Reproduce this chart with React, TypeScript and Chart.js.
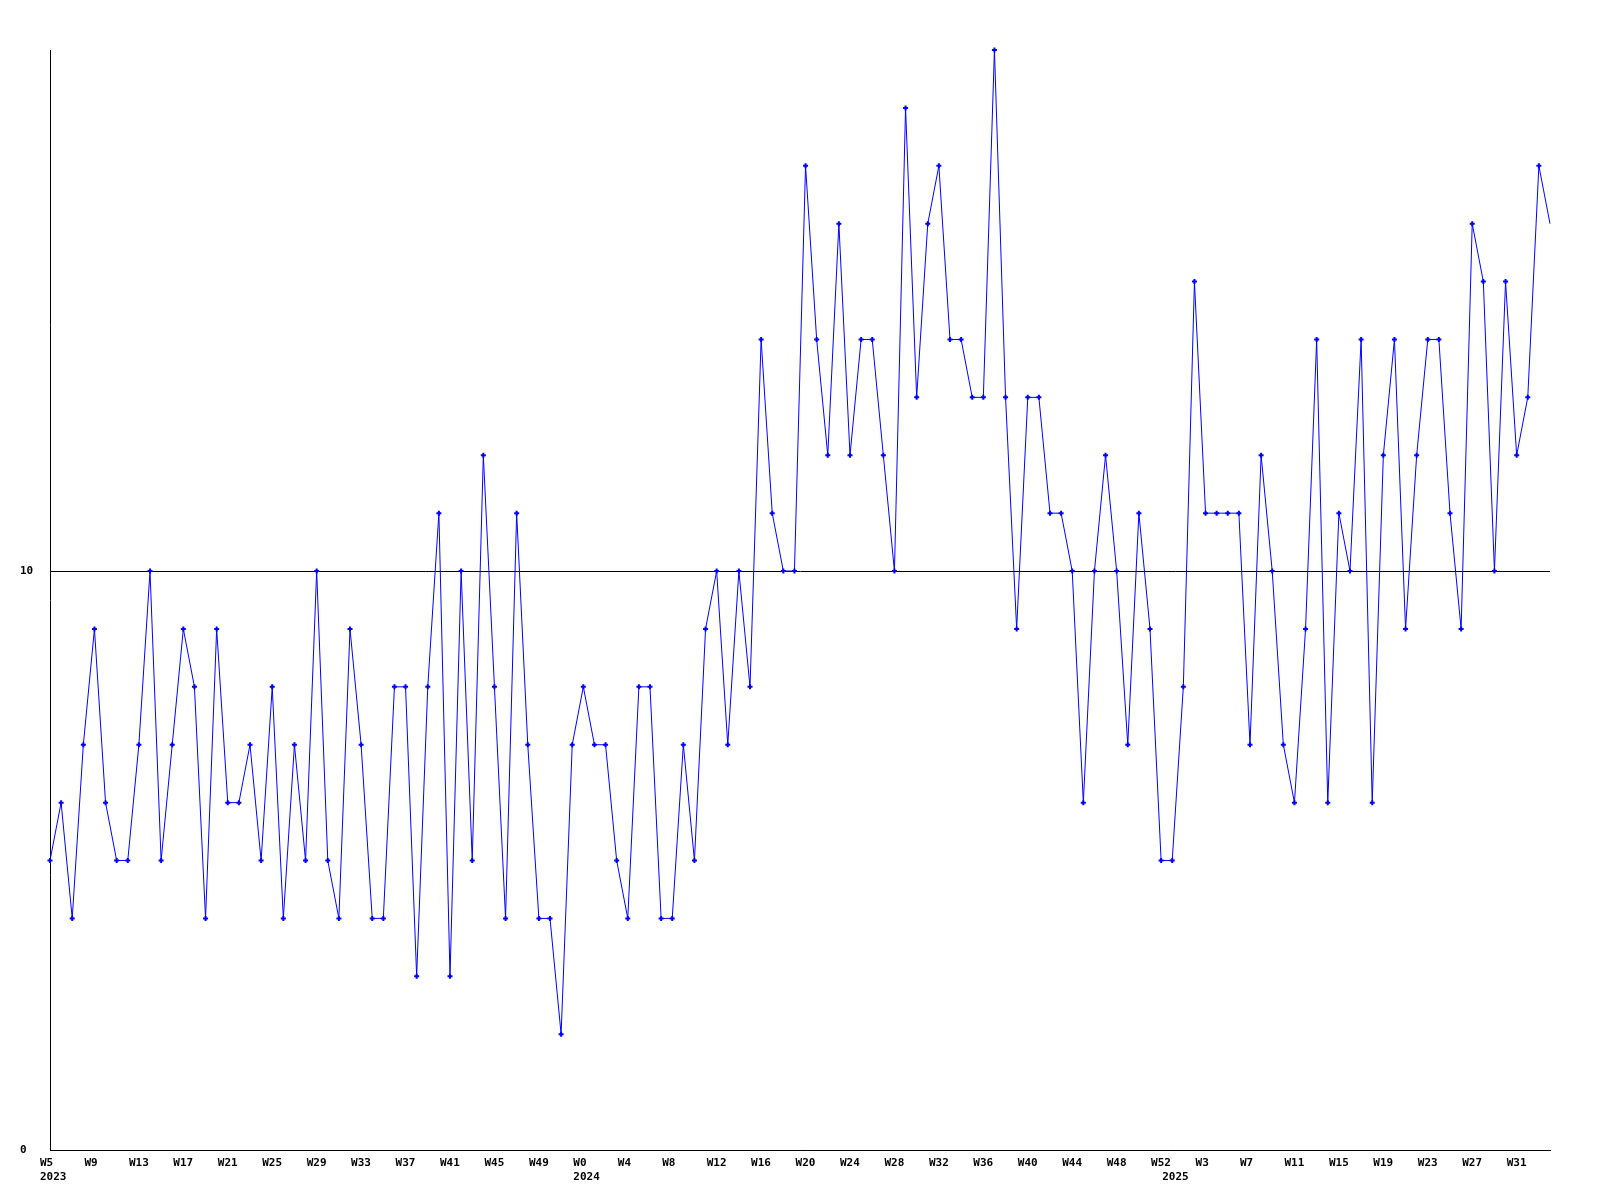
import React, { useEffect, useRef } from "react";
import { Chart, registerables } from "chart.js";

Chart.register(...registerables);

const weeks2023: number[] = Array.from({ length: 48 }, (_, i) => i + 5); // W5..W52
const weeks2024: number[] = Array.from({ length: 53 }, (_, i) => i); // W0..W52
const weeks2025: number[] = Array.from({ length: 35 }, (_, i) => i); // W0..W34

const categories: { year: number; week: number }[] = [
  ...weeks2023.map((w) => ({ year: 2023, week: w })),
  ...weeks2024.map((w) => ({ year: 2024, week: w })),
  ...weeks2025.map((w) => ({ year: 2025, week: w })),
];

const values: number[] = [
  5, 6, 4, 7, 9, 6, 5, 5, 7, 10,
  5, 7, 9, 8, 4, 9, 6, 6, 7, 5,
  8, 4, 7, 5, 10, 5, 4, 9, 7, 4,
  4, 8, 8, 3, 8, 11, 3, 10, 5, 12,
  8, 4, 11, 7, 4, 4, 2, 7, 8, 7,
  7, 5, 4, 8, 8, 4, 4, 7, 5, 9,
  10, 7, 10, 8, 14, 11, 10, 10, 17, 14,
  12, 16, 12, 14, 14, 12, 10, 18, 13, 16,
  17, 14, 14, 13, 13, 19, 13, 9, 13, 13,
  11, 11, 10, 6, 10, 12, 10, 7, 11, 9,
  5, 5, 8, 15, 11, 11, 11, 11, 7, 12,
  10, 7, 6, 9, 14, 6, 11, 10, 14, 6,
  12, 14, 9, 12, 14, 14, 11, 9, 16, 15,
  10, 15, 12, 13, 17, 16,
];

const yTicks: number[] = [0, 10];
const FONT = { family: "'DejaVu Sans Mono', monospace", size: 11, weight: "bold" as const, lineHeight: 1.3 };

export default function App() {
  const ref = useRef<HTMLCanvasElement | null>(null);

  useEffect(() => {
    if (!ref.current) return;
    const labels = categories.map((c) => `W${c.week}`);
    const pointRadius = values.map((_, i) => (i === values.length - 1 ? 0 : 2.5));
    const chart = new Chart(ref.current, {
      type: "line",
      data: {
        labels,
        datasets: [
          {
            data: values,
            borderColor: "#0000ff",
            backgroundColor: "#0000ff",
            borderWidth: 1,
            pointStyle: "cross",
            pointRadius,
            pointBorderWidth: 2,
            pointBorderColor: "#0000ff",
            tension: 0,
            clip: false as any,
          },
        ],
      },
      options: {
        animation: false,
        responsive: false,
        maintainAspectRatio: false,
        layout: { padding: { left: 20, right: 50, top: 50, bottom: 0 } },
        plugins: { legend: { display: false }, tooltip: { enabled: false } },
        scales: {
          x: {
            type: "category",
            offset: false,
            grid: { display: false, drawTicks: false },
            border: { display: true, color: "#000000", width: 1 },
            ticks: {
              autoSkip: false,
              maxRotation: 0,
              minRotation: 0,
              align: "start",
              labelOffset: -10,
              padding: 6,
              color: "#000000",
              font: FONT,
              callback: (_v: any, i: number) => {
                const c = categories[i];
                const first = i === 0 || categories[i - 1].year !== c.year;
                const wk = i % 4 === 0 ? `W${c.week}` : "";
                if (first) return [wk, String(c.year)];
                return wk;
              },
            },
            afterFit: (s: any) => {
              s.height = 50;
            },
          },
          y: {
            min: 0,
            max: 19,
            grid: {
              display: true,
              drawTicks: false,
              color: "#000000",
              lineWidth: 1,
            },
            border: { display: true, color: "#000000", width: 1 },
            ticks: {
              stepSize: 10,
              includeBounds: false,
              crossAlign: "far",
              color: "#000000",
              font: FONT,
              callback: (v: any) => (yTicks.includes(Number(v)) ? String(v) : null),
            },
            afterFit: (s: any) => {
              s.width = 30;
            },
          },
        },
      },
    });
    return () => chart.destroy();
  }, []);

  return (
    <div style={{ position: "absolute", left: 0, top: 0, width: 1600, height: 1200, background: "#ffffff" }}>
      <canvas ref={ref} width={1600} height={1200} style={{ width: 1600, height: 1200 }} />
    </div>
  );
}
